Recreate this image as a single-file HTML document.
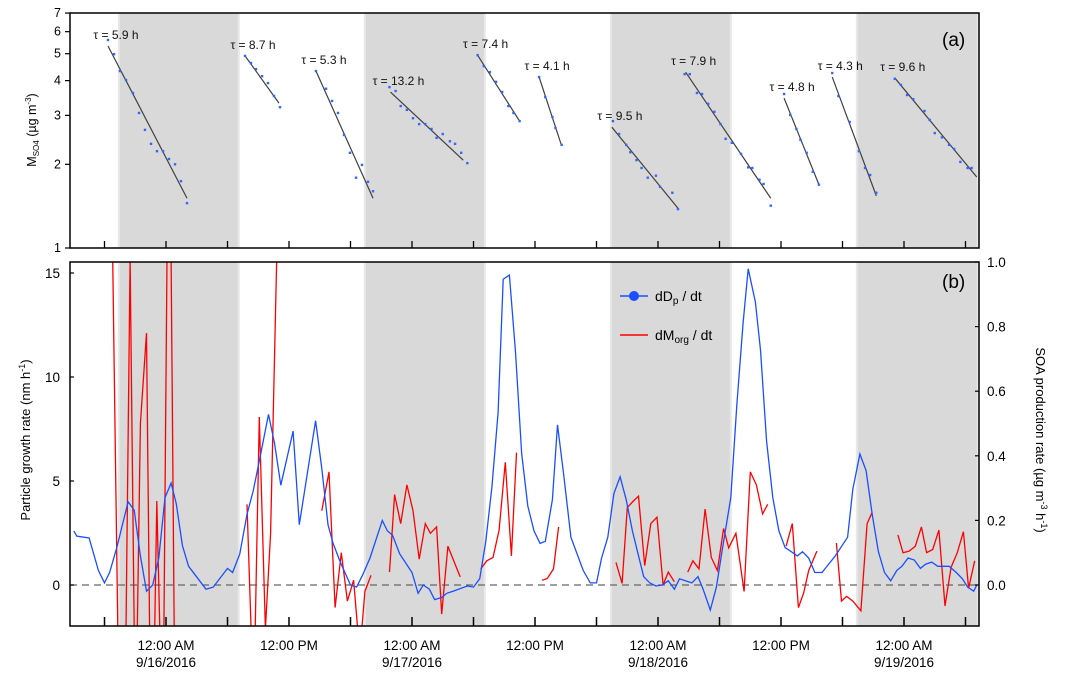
<!DOCTYPE html>
<html><head><meta charset="utf-8"><style>
html,body{margin:0;padding:0;background:#fff;width:1066px;height:678px;overflow:hidden;position:relative;}
svg{display:block;font-family:"Liberation Sans",Arial,sans-serif;}
</style></head><body>
<svg id="chart" width="1066" height="678" viewBox="0 0 1066 678" xmlns="http://www.w3.org/2000/svg" style="position:absolute;left:0;top:0">
<defs>
<clipPath id="clipA"><rect x="70" y="13" width="909" height="235"/></clipPath>
<clipPath id="clipB"><rect x="70" y="262" width="909" height="364"/></clipPath>
</defs>
<g id="root"></g>
</svg>
<script>
// ---------- DATA ----------
// hours relative to 9/16/2016 00:00
const nightStart = [-4.7, 19.3, 43.3, 67.3];
const nightEnd = [7.2, 31.2, 55.2, 79.3];
const xTickHours = [-6,0,6,12,18,24,30,36,42,48,54,60,66,72,78];
const xLabelHours = [0,12,24,36,48,60,72];
const xLabelTop = ["12:00 AM","12:00 PM","12:00 AM","12:00 PM","12:00 AM","12:00 PM","12:00 AM"];
const xLabelBottom = ["9/16/2016","","9/17/2016","","9/18/2016","","9/19/2016"];
const aTicks = [1,2,3,4,5,6,7];
const bLeftTicks = [0,5,10,15];
const bRightTicks = [0.0,0.2,0.4,0.6,0.8,1.0];

// panel (a) decay fits: [h0, v0, h1, v1]
const fitLines = [
 [-5.66,5.33,2.05,1.51],[7.71,4.91,11.02,3.32],[14.63,4.33,20.2,1.51],[21.9,3.64,29.0,2.07],
 [30.4,4.94,34.5,2.86],[36.4,4.12,38.6,2.33],[43.5,2.72,49.95,1.39],[50.7,4.29,59.0,1.51],
 [60.3,3.46,63.7,1.69],[65.0,4.12,69.3,1.54],[71.1,4.09,79.1,1.80]];
const tauLabels = ["5.9","8.7","5.3","13.2","7.4","4.1","9.5","7.9","4.8","4.3","9.6"];
const sulfHours = [
 [-5.66,-5.07,-4.49,-3.90,-3.22,-2.63,-2.05,-1.46,-0.88,-0.29,0.29,0.88,1.46,2.05],
 [7.71,8.29,8.78,9.37,9.95,10.54,11.12],
 [14.63,15.61,16.20,16.78,17.37,17.95,18.54,19.12,19.71,20.2],
 [21.8,22.4,22.9,23.5,24.1,24.7,25.3,25.9,26.4,27.0,27.7,28.2,28.8,29.4],
 [30.4,31.0,31.6,32.2,32.8,33.4,33.9,34.5],
 [36.4,37.0,37.7,38.0,38.6],
 [43.6,44.2,44.9,45.3,45.9,46.4,47.0,47.8,48.2,49.4,49.95],
 [50.6,51.1,51.8,52.3,52.9,53.5,54.1,54.6,55.2,56.1,56.8,57.2,57.9,58.3,59.0],
 [60.3,60.9,61.5,61.9,62.5,63.1,63.7],
 [65.0,65.6,66.7,67.6,68.2,68.7,69.3],
 [71.1,71.7,72.3,72.9,74.0,74.5,75.0,75.7,76.4,76.9,77.5,78.2,78.6]];
const sulfValues = [
 [5.6,4.98,4.33,4.02,3.61,3.06,2.66,2.37,2.23,2.23,2.09,2.0,1.74,1.45],
 [4.91,4.63,4.4,4.15,3.92,3.52,3.21],
 [4.33,3.74,3.38,3.06,2.55,2.2,1.79,1.99,1.73,1.60],
 [3.79,3.67,3.24,3.14,2.93,2.79,2.79,2.68,2.49,2.57,2.42,2.37,2.2,2.02],
 [4.94,4.51,4.29,3.96,3.64,3.24,3.06,2.86],
 [4.12,3.49,2.96,2.7,2.35],
 [2.86,2.57,2.35,2.21,2.07,1.94,1.79,1.82,1.66,1.58,1.38],
 [4.22,4.22,3.61,3.58,3.3,3.09,2.79,2.47,2.39,2.18,1.95,1.94,1.76,1.7,1.42],
 [3.58,3.01,2.68,2.45,2.2,1.88,1.69],
 [4.26,3.52,2.84,2.23,1.94,1.83,1.58],
 [4.06,3.86,3.55,3.43,3.11,2.89,2.59,2.5,2.35,2.27,2.04,1.94,1.94]];

// panel (b) growth rate (nm/h)
const gHours = [-9.0,-8.7,-7.5,-6.6,-6.0,-5.5,-4.8,-3.7,-3.1,-2.5,-1.9,-1.3,-0.7,-0.1,0.5,1.0,1.6,2.2,3.9,4.6,6.0,6.5,7.2,7.9,8.5,9.2,10.0,10.6,11.2,12.4,13.0,14.6,15.2,15.8,16.3,17.0,18.0,18.6,19.2,19.9,21.1,21.6,22.1,22.8,24.0,24.6,25.1,25.7,26.2,26.9,27.4,28.0,29.4,30.0,30.6,31.2,31.8,32.4,32.9,33.5,34.1,34.7,35.3,35.9,36.5,37.0,37.7,38.2,38.8,39.5,40.7,41.4,42.0,42.5,43.1,43.7,44.3,44.9,45.5,46.0,46.6,47.2,47.8,48.4,49.0,49.6,50.1,51.3,51.9,52.4,53.1,53.7,54.3,55.1,55.7,56.3,56.8,57.5,58.0,58.6,59.2,59.8,60.4,61.0,61.6,62.1,62.7,63.3,64.0,65.3,66.5,67.0,67.7,68.3,68.9,69.5,70.1,70.7,71.3,71.8,72.4,73.0,73.6,74.1,74.7,75.3,76.4,77.1,77.7,78.2,78.8,79.1];
const gValues = [2.6,2.35,2.26,0.7,0.1,0.6,1.8,4.0,3.6,1.4,-0.3,0,1.3,4.2,4.9,3.9,1.9,0.9,-0.2,-0.1,0.8,0.6,1.5,3.4,4.5,6.2,8.2,6.8,4.8,7.4,2.9,7.9,5.6,2.9,2.0,1.1,0,-0.1,0.5,1.3,3.1,2.6,2.4,1.5,0.6,-0.4,0,-0.2,-0.7,-0.6,-0.4,-0.3,-0.05,-0.1,0.3,2.1,4.7,8.3,14.7,14.9,11.2,6.3,3.8,2.6,2.0,2.1,4.1,7.7,5.3,2.3,0.7,0.1,0.1,1.3,2.3,4.4,5.2,4.1,2.6,1.6,0.4,0.1,-0.05,0,0.2,-0.2,0.3,0.1,0.4,-0.2,-1.2,-0.1,1.8,4.2,8.7,12.6,15.2,13.6,11.3,6.9,4.2,2.6,1.8,1.6,1.4,1.6,1.3,0.6,0.6,1.4,2.3,4.6,6.3,5.5,3.4,1.6,0.6,0.2,0.7,0.9,1.3,1.2,0.8,1.0,1.1,0.9,0.9,0.6,0.3,-0.1,-0.3,0];

// panel (b) SOA production (ug m-3 h-1); null = gap
const sHours = [-5.2,-4.7,-3.9,-3.5,-3.1,-2.8,-2.5,-1.9,-1.6,-1.1,-0.9,-0.6,-0.2,0.1,0.5,0.8,null,
 7.9,8.3,8.7,9.1,9.7,10.2,10.8,null,
 15.2,15.9,16.5,17.1,17.7,18.3,18.7,19.1,19.4,20.0,null,
 21.8,22.3,22.9,23.5,24.1,24.7,25.3,25.8,26.4,26.9,27.5,28.7,null,
 30.7,31.3,31.9,32.5,33.1,33.7,34.2,null,
 36.7,37.2,37.8,38.3,null,
 43.9,44.5,45.0,45.6,46.1,46.7,47.3,47.9,48.5,49.0,49.6,null,
 50.9,51.4,52.0,52.6,53.2,53.8,54.4,54.9,55.6,56.4,57.0,57.6,58.2,58.7,null,
 60.5,61.1,61.7,62.2,62.7,63.5,null,
 65.4,65.9,66.4,67.0,67.8,68.4,68.9,null,
 71.4,71.9,72.5,73.1,73.7,74.2,74.8,75.4,76.0,76.6,77.2,77.8,78.3,78.9];
const sValues = [1.6,-0.5,-0.5,1.6,-0.5,-0.5,0.5,0.78,-0.5,-0.5,0.26,-0.5,-0.5,1.6,1.6,-0.5,null,
 0.25,-0.5,-0.5,0.52,-0.5,0.16,1.5,null,
 0.23,0.35,-0.07,0.1,-0.05,0.015,-0.2,-0.2,-0.02,0.03,null,
 0.04,0.28,0.19,0.31,0.23,0.08,0.19,0.16,0.18,-0.09,0.12,0.025,null,
 0.05,0.075,0.085,0.17,0.38,0.09,0.41,null,
 0.015,0.02,0.05,0.18,null,
 0.07,0.005,0.24,0.26,0.275,0.06,0.19,0.21,0,0.04,0.01,null,
 0.04,0.075,0.05,0.235,0.085,0.045,0.175,0.115,0.16,-0.02,0.35,0.31,0.22,0.25,null,
 0.12,0.19,-0.07,-0.025,0.045,0.105,null,
 0.13,-0.05,-0.035,-0.05,-0.08,0.19,0.225,null,
 0.155,0.1,0.105,0.12,0.18,0.1,0.11,0.17,-0.065,0.055,0.1,0.165,-0.01,0.075];

// ---------- SCALES ----------
const L=70,R=979,At=13,Ab=248,Bt=262,Bb=626;
const X = h => 166 + 10.25*h;
const YA = v => Ab - Math.log10(v)*278;
const YB = v => 585 - v*20.8;
const YR = v => Math.min(Bb+3, Math.max(Bt-3, 585 - v*323));
const NS="http://www.w3.org/2000/svg";
const root=document.getElementById('root');
function mk(tag,attrs,parent,text){const e=document.createElementNS(NS,tag);for(const k in attrs)e.setAttribute(k,attrs[k]);if(text!==undefined)e.textContent=text;(parent||root).appendChild(e);return e;}

// shading
[[At,Ab],[Bt,Bb]].forEach(([t,b],pi)=>{
 nightStart.forEach((s,i)=>{
  const x0=Math.max(L,X(s)), x1=Math.min(R,X(nightEnd[i]));
  const edge=mk('rect',{x:x0,y:t,width:x1-x0,height:b-t,fill:'#e8e8e8'});
  
  
  const r=mk('rect',{x:x0+2,y:t,width:Math.max(0,x1-x0-4),height:b-t,fill:'#d9d9d9'});
  
  
 });
});

// panel a: fits and points
const gA=mk('g',{'clip-path':'url(#clipA)'});


fitLines.forEach((f,i)=>{
 const ln=mk('line',{x1:X(f[0]),y1:YA(f[1]),x2:X(f[2]),y2:YA(f[3]),stroke:'#404040','stroke-width':1.2},gA);
 
 
 sulfHours[i].forEach((h,j)=>{
  const p=mk('rect',{x:X(h)-1.2,y:YA(sulfValues[i][j])-1.2,width:2.4,height:2.4,fill:'#3366ff'},gA);
  
  
 });
 const t=mk('text',{x:X(f[0])+8,y:YA(f[1])-7,'font-size':12,'text-anchor':'middle',fill:'#111'},root,'τ = '+tauLabels[i]+' h');
 
 
});

// panel b: zero line
const z=mk('line',{x1:L,y1:YB(0),x2:R,y2:YB(0),stroke:'#666','stroke-width':1.2,'stroke-dasharray':'7,5'});



const gB=mk('g',{'clip-path':'url(#clipB)'});
// red SOA
let d='',pen=false;
sHours.forEach((h,i)=>{ if(h===null){pen=false;return;} d+=(pen?'L':'M')+X(h).toFixed(1)+','+YR(sValues[i]).toFixed(1); pen=true;});
const red=mk('path',{d:d,fill:'none',stroke:'#ff0000','stroke-width':1.3},gB);


// blue growth
const bd=gHours.map((h,i)=>(i?'L':'M')+X(h).toFixed(1)+','+YB(gValues[i]).toFixed(1)).join('');
const blue=mk('path',{d:bd,fill:'none',stroke:'#1a4fff','stroke-width':1.3},gB);



// frames
[[At,Ab,'panel-a-frame'],[Bt,Bb,'panel-b-frame']].forEach(([t,b,n])=>{
 const f=mk('rect',{x:L,y:t,width:R-L,height:b-t,fill:'none',stroke:'#000','stroke-width':1.5});
 
 
});
// x ticks
xTickHours.forEach(h=>{
 const x=X(h); if(x<L||x>R)return;
 mk('line',{x1:x,y1:Ab,x2:x,y2:Ab-7,stroke:'#000','stroke-width':1.3});
 const tk=mk('line',{x1:x,y1:Bb,x2:x,y2:Bb-9,stroke:'#000','stroke-width':1.5});
 
 
});
xLabelHours.forEach((h,i)=>{
 const t1=mk('text',{x:X(h),y:650,'font-size':13.5,'text-anchor':'middle'},root,xLabelTop[i]);
 
 
 if(xLabelBottom[i]){
  const t2=mk('text',{x:X(h),y:667,'font-size':13.5,'text-anchor':'middle'},root,xLabelBottom[i]);
  
  
 }
});
// a ticks
aTicks.forEach(v=>{
 const y=YA(v);
 mk('line',{x1:L-5,y1:y,x2:L,y2:y,stroke:'#000','stroke-width':1.2});
 const t=mk('text',{x:L-9,y:y+4,'font-size':12.5,'text-anchor':'end'},root,String(v));
 
 
});
bLeftTicks.forEach(v=>{
 const y=YB(v);
 mk('line',{x1:L,y1:y,x2:L+4,y2:y,stroke:'#000','stroke-width':1.2});
 const t=mk('text',{x:L-10,y:y+5,'font-size':13.5,'text-anchor':'end'},root,String(v));
 
 
});
bRightTicks.forEach(v=>{
 const y=585 - v*323;
 mk('line',{x1:R-4,y1:y,x2:R,y2:y,stroke:'#000','stroke-width':1.2});
 const t=mk('text',{x:R+8,y:y+5,'font-size':13.5},root,v.toFixed(1));
 
 
});
</script>
<svg style="position:absolute;left:0;top:0" width="1066" height="678">
 <text x="942" y="46" font-size="19" font-family="Liberation Sans, sans-serif">(a)</text>
 <text x="942" y="288" font-size="19" font-family="Liberation Sans, sans-serif">(b)</text>
 <g font-family="Liberation Sans, sans-serif" font-size="14">
  <line x1="620" y1="296" x2="648" y2="296" stroke="#1a4fff" stroke-width="1.5"/>
  <circle cx="634" cy="296" r="5" fill="#1a4fff"/>
  <text x="655" y="301">dD<tspan font-size="10" dy="3">p</tspan><tspan dy="-3"> / dt</tspan></text>
  <line x1="620" y1="335" x2="648" y2="335" stroke="#ff0000" stroke-width="1.5"/>
  <text x="655" y="340">dM<tspan font-size="10" dy="3">org</tspan><tspan dy="-3"> / dt</tspan></text>
 </g>
 <text transform="translate(36,130) rotate(-90)" text-anchor="middle" font-size="12.5" font-family="Liberation Sans, sans-serif">M<tspan font-size="8" dy="3">SO4</tspan><tspan dy="-3"> (µg m</tspan><tspan font-size="8" dy="-5">-3</tspan><tspan dy="5">)</tspan></text>
 <text transform="translate(30,440) rotate(-90)" text-anchor="middle" font-size="13" font-family="Liberation Sans, sans-serif">Particle growth rate (nm h<tspan font-size="9" dy="-5">-1</tspan><tspan dy="5">)</tspan></text>
 <text transform="translate(1036,440) rotate(90)" text-anchor="middle" font-size="13" font-family="Liberation Sans, sans-serif">SOA production rate (µg m<tspan font-size="9" dy="-5">-3</tspan><tspan dy="5"> h</tspan><tspan font-size="9" dy="-5">-1</tspan><tspan dy="5">)</tspan></text>
</svg>
</body></html>
